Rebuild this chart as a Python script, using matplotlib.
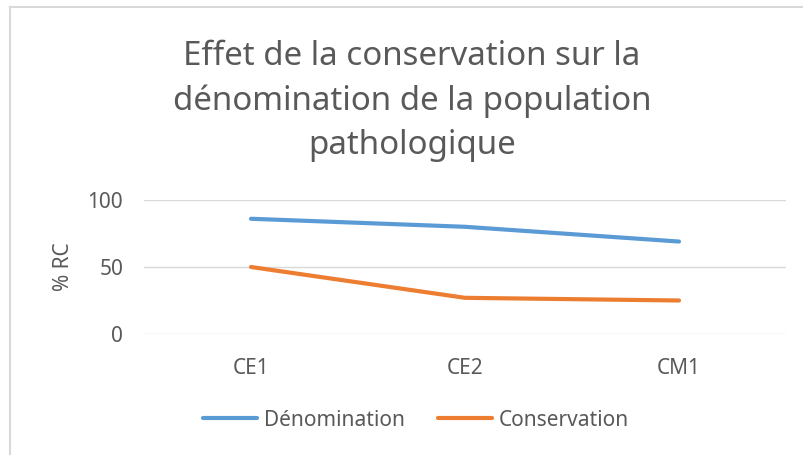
import matplotlib.pyplot as plt
from matplotlib.lines import Line2D

# chart data
categories = ["CE1", "CE2", "CM1"]
denomination = [86, 80, 69]
conservation = [50, 27, 25]
yticks = [0, 50, 100]

title = "Effet de la conservation sur la\ndénomination de la population\npathologique"

plt.rcParams['font.family'] = ['Noto Sans', 'DejaVu Sans']
txt_col = '#595959'
grid_col = '#D9D9D9'

fig = plt.figure(figsize=(8.04, 4.55), dpi=100)
ax = fig.add_axes([144 / 804, 1 - 334 / 455, 642 / 804, 134 / 455])

x = range(len(categories))
ax.plot(x, denomination, color='#5B9BD5', lw=3, solid_capstyle='round', label='Dénomination')
ax.plot(x, conservation, color='#ED7D31', lw=3, solid_capstyle='round', label='Conservation')

ax.set_xlim(-0.5, len(categories) - 0.5)
ax.set_ylim(0, 100)
ax.set_yticks(yticks)
ax.set_xticks(list(x))
ax.set_xticklabels(categories)
ax.tick_params(length=0, labelsize=15, labelcolor=txt_col)
ax.tick_params(axis='y', pad=15)
ax.tick_params(axis='x', pad=17)
ax.grid(axis='y', color=grid_col, lw=1)
ax.set_axisbelow(True)
for s in ax.spines.values():
    s.set_visible(False)

ax.set_ylabel("% RC", fontsize=15, color=txt_col, labelpad=10)

fig.text(412 / 804, 1 - 101 / 455, title, ha='center', va='center',
         fontsize=23.8, color=txt_col, linespacing=1.45)

ax.legend(loc='center', bbox_to_anchor=(416 / 804, 1 - 420 / 455),
          bbox_transform=fig.transFigure, ncol=2, frameon=False,
          fontsize=15, labelcolor=txt_col, handlelength=2.6,
          handletextpad=0.33, columnspacing=1.6)

# chart border (only top and left visible in the crop)
fig.add_artist(Line2D([10 / 804, 10 / 804], [0, 1 - 7 / 455], color=grid_col, lw=1.5,
                      transform=fig.transFigure))
fig.add_artist(Line2D([10 / 804, 1], [1 - 7 / 455, 1 - 7 / 455], color=grid_col, lw=1.5,
                      transform=fig.transFigure))

fig.savefig("out.png", dpi=100)
